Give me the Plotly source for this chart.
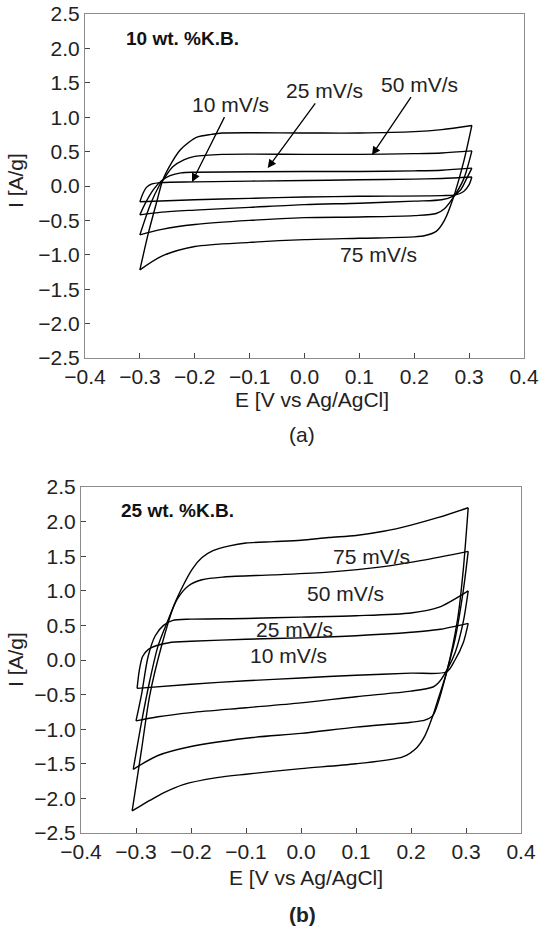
import plotly.graph_objects as go

# ---------------- Panel (a): 10 wt.% K.B. ----------------
E_A10_FWD = [-0.300, -0.295, -0.288, -0.278, -0.260, -0.200, 0.000, 0.100, 0.200, 0.250, 0.305]
I_A10_FWD = [-0.23, -0.12, -0.02, 0.03, 0.05, 0.06, 0.08, 0.09, 0.10, 0.11, 0.13]
E_A10_REV = [0.305, 0.300, 0.290, 0.275, 0.250, 0.100, 0.000, -0.100, -0.200, -0.300]
I_A10_REV = [0.13, 0.02, -0.08, -0.13, -0.14, -0.15, -0.16, -0.18, -0.20, -0.23]

E_A25_FWD = [-0.300, -0.290, -0.275, -0.260, -0.245, -0.225, -0.200, 0.000, 0.100, 0.200, 0.250, 0.305]
I_A25_FWD = [-0.42, -0.25, -0.05, 0.08, 0.15, 0.19, 0.20, 0.21, 0.21, 0.22, 0.23, 0.26]
E_A25_REV = [0.305, 0.295, 0.285, 0.270, 0.250, 0.200, 0.100, 0.000, -0.100, -0.200, -0.260, -0.300]
I_A25_REV = [0.26, 0.10, -0.05, -0.15, -0.20, -0.22, -0.25, -0.27, -0.31, -0.35, -0.38, -0.42]

E_A50_FWD = [-0.300, -0.280, -0.265, -0.255, -0.240, -0.220, -0.200, -0.150, 0.000, 0.100, 0.200, 0.250, 0.305]
I_A50_FWD = [-0.71, -0.25, 0.00, 0.12, 0.28, 0.38, 0.43, 0.46, 0.46, 0.46, 0.47, 0.48, 0.51]
E_A50_REV = [0.305, 0.290, 0.270, 0.255, 0.240, 0.200, 0.100, 0.000, -0.100, -0.200, -0.260, -0.300]
I_A50_REV = [0.51, 0.10, -0.18, -0.33, -0.40, -0.43, -0.45, -0.46, -0.50, -0.56, -0.63, -0.71]

E_A75_FWD = [-0.300, -0.285, -0.270, -0.258, -0.245, -0.227, -0.210, -0.196, -0.170, -0.150, 0.000, 0.100, 0.200, 0.250, 0.305]
I_A75_FWD = [-1.22, -0.70, -0.25, 0.09, 0.30, 0.52, 0.64, 0.71, 0.75, 0.77, 0.77, 0.77, 0.79, 0.82, 0.88]
E_A75_REV = [0.305, 0.290, 0.270, 0.255, 0.240, 0.220, 0.200, 0.100, 0.000, -0.100, -0.200, -0.260, -0.300]
I_A75_REV = [0.88, 0.35, -0.20, -0.50, -0.66, -0.72, -0.74, -0.76, -0.78, -0.82, -0.88, -1.02, -1.22]

# ---------------- Panel (b): 25 wt.% K.B. ----------------
E_B10_FWD = [-0.298, -0.294, -0.288, -0.278, -0.262, -0.240, -0.200, -0.100, 0.000, 0.100, 0.200, 0.250, 0.304]
I_B10_FWD = [-0.41, -0.15, 0.05, 0.15, 0.21, 0.25, 0.27, 0.30, 0.32, 0.35, 0.40, 0.44, 0.53]
E_B10_REV = [0.304, 0.295, 0.280, 0.265, 0.200, 0.100, 0.000, -0.100, -0.200, -0.298]
I_B10_REV = [0.53, 0.25, 0.00, -0.17, -0.19, -0.22, -0.26, -0.30, -0.35, -0.41]

E_B25_FWD = [-0.300, -0.290, -0.278, -0.265, -0.250, -0.234, -0.200, -0.100, 0.000, 0.100, 0.200, 0.250, 0.304]
I_B25_FWD = [-0.88, -0.50, 0.05, 0.35, 0.50, 0.57, 0.59, 0.60, 0.62, 0.64, 0.68, 0.76, 1.00]
E_B25_REV = [0.304, 0.295, 0.280, 0.265, 0.250, 0.240, 0.200, 0.100, 0.000, -0.100, -0.200, -0.260, -0.300]
I_B25_REV = [1.00, 0.55, 0.10, -0.15, -0.33, -0.39, -0.45, -0.53, -0.62, -0.69, -0.76, -0.82, -0.88]

E_B50_FWD = [-0.305, -0.290, -0.275, -0.260, -0.242, -0.225, -0.205, -0.180, -0.140, -0.050, 0.050, 0.150, 0.220, 0.304]
I_B50_FWD = [-1.58, -0.90, -0.30, 0.20, 0.57, 0.88, 1.07, 1.16, 1.20, 1.23, 1.27, 1.35, 1.44, 1.57]
E_B50_REV = [0.304, 0.295, 0.280, 0.265, 0.250, 0.240, 0.225, 0.200, 0.100, 0.000, -0.100, -0.200, -0.260, -0.305]
I_B50_REV = [1.57, 1.00, 0.30, -0.17, -0.60, -0.80, -0.87, -0.90, -0.97, -1.06, -1.13, -1.25, -1.38, -1.58]

E_B75_FWD = [-0.307, -0.290, -0.275, -0.253, -0.230, -0.198, -0.180, -0.160, -0.130, -0.100, -0.050, 0.000, 0.050, 0.100, 0.150, 0.200, 0.250, 0.304]
I_B75_FWD = [-2.18, -1.30, -0.51, 0.22, 0.81, 1.31, 1.48, 1.58, 1.65, 1.69, 1.71, 1.73, 1.77, 1.80, 1.86, 1.95, 2.06, 2.20]
E_B75_REV = [0.304, 0.295, 0.285, 0.265, 0.250, 0.240, 0.225, 0.210, 0.185, 0.100, 0.000, -0.100, -0.153, -0.214, -0.250, -0.275, -0.290, -0.307]
I_B75_REV = [2.20, 1.30, 0.60, -0.17, -0.55, -0.80, -1.10, -1.27, -1.40, -1.50, -1.57, -1.65, -1.70, -1.80, -1.92, -2.03, -2.10, -2.18]

X_TICKS = [-0.4, -0.3, -0.2, -0.1, 0.0, 0.1, 0.2, 0.3, 0.4]
Y_TICKS = [-2.5, -2.0, -1.5, -1.0, -0.5, 0.0, 0.5, 1.0, 1.5, 2.0, 2.5]
X_TITLE = "E [V vs Ag/AgCl]"
Y_TITLE = "I [A/g]"

FONT = "Liberation Sans, Arial, sans-serif"
W, H = 539, 945

fig = go.Figure()

panel_a = [
    ("10 mV/s", E_A10_FWD, I_A10_FWD, E_A10_REV, I_A10_REV),
    ("25 mV/s", E_A25_FWD, I_A25_FWD, E_A25_REV, I_A25_REV),
    ("50 mV/s", E_A50_FWD, I_A50_FWD, E_A50_REV, I_A50_REV),
    ("75 mV/s", E_A75_FWD, I_A75_FWD, E_A75_REV, I_A75_REV),
]
panel_b = [
    ("10 mV/s", E_B10_FWD, I_B10_FWD, E_B10_REV, I_B10_REV),
    ("25 mV/s", E_B25_FWD, I_B25_FWD, E_B25_REV, I_B25_REV),
    ("50 mV/s", E_B50_FWD, I_B50_FWD, E_B50_REV, I_B50_REV),
    ("75 mV/s", E_B75_FWD, I_B75_FWD, E_B75_REV, I_B75_REV),
]

for xa, ya, panel in (("x", "y", panel_a), ("x2", "y2", panel_b)):
    for name, ef, i_f, er, i_r in panel:
        for ex, iy in ((ef, i_f), (er, i_r)):
            fig.add_trace(go.Scatter(
                x=ex, y=iy, mode="lines", name=name, showlegend=False,
                line=dict(color="black", width=1.4, shape="spline", smoothing=0.8),
                xaxis=xa, yaxis=ya, hoverinfo="skip"))


def px_x(p):
    return p / W


def px_y(p):
    return 1 - p / H


axis_common = dict(
    showgrid=False, zeroline=False, showline=True, mirror=True,
    linecolor="#8c8c8c", linewidth=1, ticks="inside", ticklen=5, tickwidth=1,
    tickcolor="#444", tickfont=dict(family=FONT, size=21, color="#222"),
    tickformat=".1f", automargin=False, fixedrange=True,
)

fig.update_layout(
    width=W, height=H, margin=dict(l=0, r=0, t=0, b=0),
    paper_bgcolor="white", plot_bgcolor="white", showlegend=False,
    font=dict(family=FONT, color="#111"),
    xaxis=dict(axis_common, range=[-0.4, 0.4], tickvals=X_TICKS,
               domain=[px_x(85), px_x(524)], anchor="y"),
    yaxis=dict(axis_common, range=[-2.5, 2.5], tickvals=Y_TICKS,
               domain=[px_y(358), px_y(14)], anchor="x"),
    xaxis2=dict(axis_common, range=[-0.4, 0.4], tickvals=X_TICKS,
                domain=[px_x(81), px_x(521)], anchor="y2"),
    yaxis2=dict(axis_common, range=[-2.5, 2.5], tickvals=Y_TICKS,
                domain=[px_y(833), px_y(487)], anchor="x2"),
)

ann = []
TXT = dict(family=FONT, size=21, color="#222")
# axis titles and panel letters
for (xc, yc_title, yc_letter, yc_ytitle, letter, bold) in (
        (312, 399, 434, 181, "(a)", False),
        (306, 877, 914, 660, "(b)", True)):
    ann.append(dict(text=X_TITLE, x=px_x(xc), y=px_y(yc_title), xref="paper", yref="paper",
                    xanchor="center", yanchor="middle", showarrow=False, font=TXT))
    ann.append(dict(text=("<b>%s</b>" % letter) if bold else letter, x=px_x(302), y=px_y(yc_letter),
                    xref="paper", yref="paper", xanchor="center", yanchor="middle",
                    showarrow=False, font=TXT))
    ann.append(dict(text=Y_TITLE, x=px_x(15), y=px_y(yc_ytitle), xref="paper", yref="paper",
                    xanchor="center", yanchor="middle", showarrow=False, textangle=-90, font=TXT))

# panel headers
ann.append(dict(text="<b>10 wt. %K.B.</b>", x=-0.223, y=2.14, xref="x", yref="y", showarrow=False,
                xanchor="center", yanchor="middle", font=dict(family=FONT, size=19, color="#111")))
ann.append(dict(text="<b>25 wt. %K.B.</b>", x=-0.224, y=2.16, xref="x2", yref="y2", showarrow=False,
                xanchor="center", yanchor="middle", font=dict(family=FONT, size=19, color="#111")))

# rate labels with arrows, panel (a)
arrow_a = [("10 mV/s", -0.205, 0.058, -0.134, 1.19),
           ("25 mV/s", -0.067, 0.26, 0.037, 1.39),
           ("50 mV/s", 0.123, 0.45, 0.21, 1.48)]
for t, hx, hy, lx, ly in arrow_a:
    ann.append(dict(text=t, x=hx, y=hy, ax=lx, ay=ly, xref="x", yref="y", axref="x", ayref="y",
                    showarrow=True, arrowhead=2, arrowsize=1.3, arrowwidth=1.3, arrowcolor="black",
                    standoff=0, font=TXT))
ann.append(dict(text="75 mV/s", x=0.134, y=-1.0, xref="x", yref="y", showarrow=False,
                xanchor="center", yanchor="middle", font=TXT))

# rate labels panel (b)
for t, lx, ly in (("75 mV/s", 0.129, 1.50), ("50 mV/s", 0.080, 0.96),
                  ("25 mV/s", -0.011, 0.44), ("10 mV/s", -0.022, 0.07)):
    ann.append(dict(text=t, x=lx, y=ly, xref="x2", yref="y2", showarrow=False,
                    xanchor="center", yanchor="middle", font=TXT))

fig.update_layout(annotations=ann)
# remove the browser's default page margin so the figure sits at the window origin
fig.write_html("out.html", config={"displayModeBar": False},
               post_script="document.body.style.margin='0';")
